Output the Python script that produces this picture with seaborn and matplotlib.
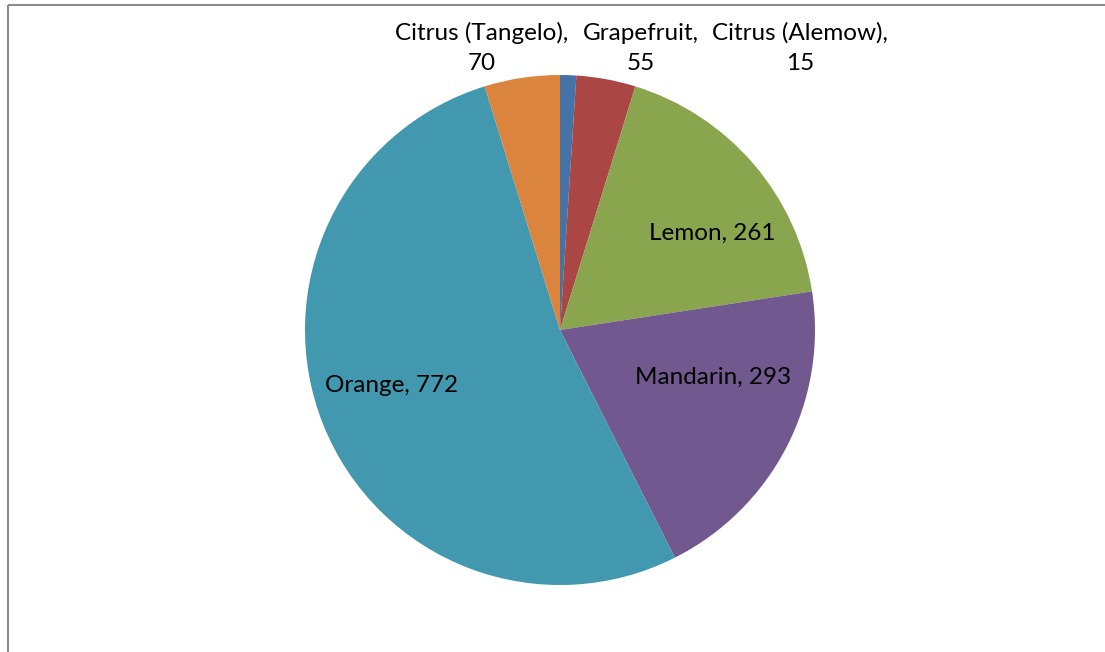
import matplotlib
matplotlib.use("Agg")
import matplotlib.pyplot as plt
import seaborn as sns

# slice order goes clockwise from 12 o'clock, as in the original sheet
fruits = ["Citrus (Alemow)", "Grapefruit", "Lemon", "Mandarin", "Orange", "Citrus (Tangelo)"]
counts = [15, 55, 261, 293, 772, 70]
colours = ["#4572A7", "#AA4643", "#89A54E", "#71588F", "#4198AF", "#DB843D"]

sns.set_theme(style="white")
plt.rcParams["font.family"] = ["Lato", "DejaVu Sans"]

W, H = 1105, 652
fig = plt.figure(figsize=(W / 100, H / 100), dpi=100)
ax = fig.add_axes([0, 0, 1, 1])
ax.set_xlim(0, W)
ax.set_ylim(0, H)
ax.axis("off")

cx, cy, r = 560, H - 330, 255
ax.pie(counts, colors=sns.color_palette(colours), startangle=90,
       counterclock=False, center=(cx, cy), radius=r,
       wedgeprops=dict(linewidth=0), frame=False)
ax.set_xlim(0, W)
ax.set_ylim(0, H)
ax.set_aspect("auto")

lab = dict(fontsize=17.5, color="black", ha="center", va="center")
ax.text(712, H - 233, f"{fruits[2]}, {counts[2]}", **lab)
ax.text(713, H - 377, f"{fruits[3]}, {counts[3]}", **lab)
ax.text(392, H - 386, f"{fruits[4]}, {counts[4]}", **lab)
# small slices get their labels stacked above the pie
top = [(482, fruits[5], counts[5]), (641, fruits[1], counts[1]), (800, fruits[0], counts[0])]
for x, name, n in top:
    ax.text(x, H - 33, name + ",", **lab)
    ax.text(x, H - 64, str(n), **lab)

# chart frame (only top and left edges are visible in the crop)
ax.plot([8, W], [H - 5, H - 5], color="#8c8c8c", lw=1.5, solid_capstyle="butt")
ax.plot([8, 8], [H - 5, 0], color="#8c8c8c", lw=1.5, solid_capstyle="butt")

fig.savefig("out.png", dpi=100)
